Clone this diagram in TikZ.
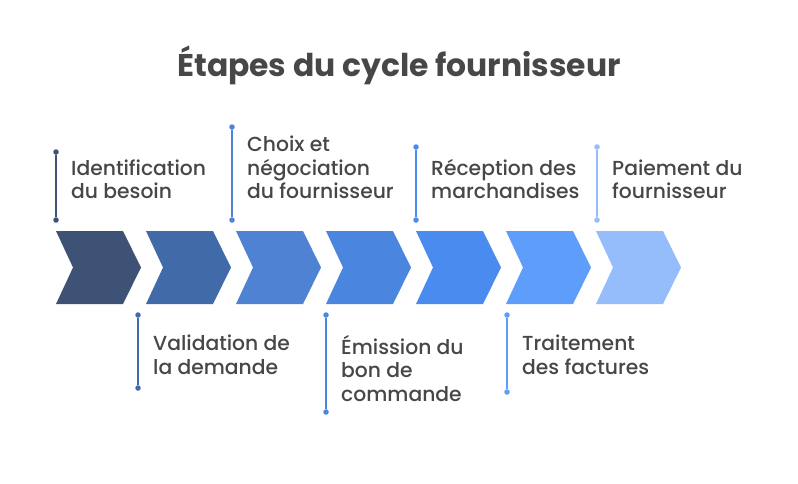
\documentclass[tikz,border=0pt]{standalone}
\usepackage{fontspec}
\setmainfont{Poppins}
\newfontfamily\lblfont{Poppins}[UprightFont=* Medium]
\usetikzlibrary{positioning}
\definecolor{ink}{HTML}{474747}
\definecolor{c1}{HTML}{3E5276}
\definecolor{c2}{HTML}{416AA8}
\definecolor{c3}{HTML}{4F82D3}
\definecolor{c4}{HTML}{4A86E0}
\definecolor{c5}{HTML}{4A8BF0}
\definecolor{c6}{HTML}{5F9DFA}
\definecolor{c7}{HTML}{95BDFC}
\begin{document}
\begin{tikzpicture}[x=1pt,y=-1pt,
  lbl/.style={font=\lblfont\fontsize{20.3}{23.6}\selectfont, text=ink, align=left, inner sep=0pt},
  pin/.style={line width=1.4pt},
  dot/.style={circle, inner sep=0pt, minimum size=5.5pt}]
  \useasboundingbox[fill=white] (0,0) rectangle (798,483);
  \node[font=\bfseries\fontsize{31.4}{36}\selectfont, text=ink, anchor=base] (title) at (399,76) {Étapes du cycle fournisseur};
  % chevrons
  \foreach \i/\col in {0/c1,1/c2,2/c3,3/c4,4/c5,5/c6,6/c7}
    \fill[\col] (56+90*\i,231) -- ++(67,0) -- ++(18,36.5) -- ++(-18,36.5)
      -- ++(-67,0) -- ++(17,-36.5) -- cycle;
  % labels above
  \foreach \n/\x/\y/\col/\txt in {1/56/152/c1/{Identification\\du besoin},
      3/232/127/c3/{Choix et\\négociation\\du fournisseur},
      5/416/147/c5/{Réception des\\marchandises},
      7/597/147/c7/{Paiement du\\fournisseur}} {
    \node[dot, fill=\col] (a\n) at (\x,\y) {};
    \node[dot, fill=\col] (b\n) at (\x,220) {};
    \draw[pin, \col] (a\n) -- (b\n);
    \node[lbl, above right=21pt and 15pt of b\n.center] (l\n) {\txt};
  }
  % labels below
  \foreach \n/\x/\y/\col/\txt in {2/138/388/c2/{Validation de\\la demande},
      4/326/412/c4/{Émission du\\bon de\\commande},
      6/507/392/c6/{Traitement\\des factures}} {
    \node[dot, fill=\col] (a\n) at (\x,315) {};
    \node[dot, fill=\col] (b\n) at (\x,\y) {};
    \draw[pin, \col] (a\n) -- (b\n);
    \node[lbl, below right=20pt and 15pt of a\n.center] (l\n) {\txt};
  }
\end{tikzpicture}
\end{document}
